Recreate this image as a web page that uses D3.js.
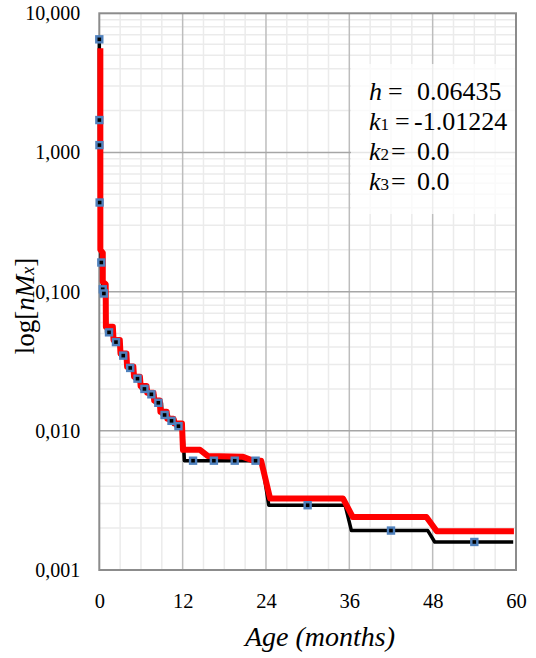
<!DOCTYPE html>
<html>
<head>
<meta charset="utf-8">
<script src="https://cdn.jsdelivr.net/npm/d3@7"></script>
<style>
  body { margin: 0; background: #fff; }
  svg { display: block; }
</style>
</head>
<body>
<div id="chart"></div>
<script>
// observed rates (markers) by age in months
var obsAge  = [0, 0.01, 0.02, 0.05, 0.29, 0.5, 0.66, 1.4, 2.4, 3.45, 4.45, 5.5, 6.5, 7.5, 8.5, 9.4, 10.4, 11.4, 13.5, 16.5, 19.5, 22.5, 30, 42, 54];
var obsRate = [6.5, 1.71, 1.13, 0.437, 0.162, 0.104, 0.097, 0.051, 0.0434, 0.0347, 0.0283, 0.0237, 0.0200, 0.0183, 0.0159, 0.0130, 0.0118, 0.0108, 0.0061, 0.0061, 0.0061, 0.0061, 0.00292, 0.00192, 0.00159];

// observed step line (black)
var blackAge  = [0, 0.01, 0.02, 0.05, 0.29, 0.5, 0.66, 0.95, 1.05, 1.95, 2.05, 2.95, 3.05, 3.95, 4.05, 4.95, 5.05, 5.95, 6.05, 6.95, 7.05, 7.95, 8.05, 8.95, 9.05, 9.95, 10.05, 10.95, 11.05, 12.0, 12.25, 23.4, 24.4, 35.4, 36.3, 47.3, 48.3, 59.6];
var blackRate = [6.5, 1.71, 1.13, 0.437, 0.162, 0.104, 0.097, 0.097, 0.051, 0.051, 0.0434, 0.0434, 0.0347, 0.0347, 0.0283, 0.0283, 0.0237, 0.0237, 0.0200, 0.0200, 0.0183, 0.0183, 0.0159, 0.0159, 0.0130, 0.0130, 0.0118, 0.0118, 0.0108, 0.0108, 0.0061, 0.0061, 0.00292, 0.00292, 0.00192, 0.00192, 0.00159, 0.00159];

// fitted line (red)
var redAge  = [0.15, 0.15, 0.5, 0.5, 0.92, 0.95, 1.95, 2.05, 2.95, 3.05, 3.9, 4.0, 4.9, 5.0, 5.85, 5.95, 6.8, 6.9, 7.8, 7.9, 8.7, 8.8, 9.7, 9.8, 10.7, 10.8, 11.9, 12.05, 14.5, 15.6, 20.7, 22.2, 23.3, 24.6, 35.1, 36.5, 47.1, 48.6, 59.7];
var redRate = [5.6, 0.2, 0.19, 0.118, 0.113, 0.056, 0.056, 0.045, 0.045, 0.036, 0.036, 0.029, 0.029, 0.0245, 0.0245, 0.021, 0.021, 0.0188, 0.0188, 0.0165, 0.0165, 0.0137, 0.0137, 0.0122, 0.0122, 0.0113, 0.0113, 0.0073, 0.0073, 0.0066, 0.0065, 0.0061, 0.0061, 0.00326, 0.00326, 0.0024, 0.0024, 0.0019, 0.0019];

var yTicks = [10, 1, 0.1, 0.01, 0.001];
var yTickLabels = ["10,000", "1,000", "0,100", "0,010", "0,001"];
var xTicks = [0, 12, 24, 36, 48, 60];

var paramNames  = ["h", "k", "k", "k"];
var paramSubs   = ["", "1", "2", "3"];
var paramValues = ["0.06435", "-1.01224", "0.0", "0.0"];

var width = 536, height = 658;
var m = {left: 99.3, right: 516, top: 13.3, bottom: 570};
var serif = "Liberation Serif";

var svg = d3.select("#chart").append("svg")
  .attr("width", width)
  .attr("height", height)
  .attr("font-family", serif);

var x = d3.scaleLinear().domain([0, 60]).range([m.left, m.right]);
var y = d3.scaleLog().domain([0.001, 10]).range([m.bottom, m.top]);

// minor grid
var minorX = d3.range(0, 61, 3).filter(function(d) { return d % 12 != 0; });
var minorY = [];
yTicks.slice(1).forEach(function(t) {
  for (var i = 2; i <= 9; i++) minorY.push(t * i);
});

var grid = svg.append("g");
grid.selectAll(".mx").data(minorX).enter().append("line")
  .attr("x1", x).attr("x2", x).attr("y1", m.top).attr("y2", m.bottom)
  .attr("stroke", "#ebebeb").attr("stroke-width", 1.5);
grid.selectAll(".my").data(minorY).enter().append("line")
  .attr("x1", m.left).attr("x2", m.right).attr("y1", y).attr("y2", y)
  .attr("stroke", "#ebebeb").attr("stroke-width", 1.5);

// major grid
grid.selectAll(".Mx").data(xTicks.slice(1, -1)).enter().append("line")
  .attr("x1", x).attr("x2", x).attr("y1", m.top).attr("y2", m.bottom)
  .attr("stroke", "#bdbdbd").attr("stroke-width", 1.5);
grid.selectAll(".My").data(yTicks.slice(1, -1)).enter().append("line")
  .attr("x1", m.left).attr("x2", m.right).attr("y1", y).attr("y2", y)
  .attr("stroke", "#a6a6a6").attr("stroke-width", 1.5);

// plot border
svg.append("rect")
  .attr("x", m.left).attr("y", m.top)
  .attr("width", m.right - m.left).attr("height", m.bottom - m.top)
  .attr("fill", "none").attr("stroke", "#8c8c8c").attr("stroke-width", 2);

// lines
var line = d3.line()
  .x(function(d) { return x(d[0]); })
  .y(function(d) { return y(d[1]); });

svg.append("path")
  .datum(d3.zip(blackAge, blackRate))
  .attr("d", line)
  .attr("fill", "none").attr("stroke", "#000").attr("stroke-width", 3.5)
  .attr("stroke-linejoin", "round");

svg.append("path")
  .datum(d3.zip(redAge, redRate))
  .attr("d", line)
  .attr("fill", "none").attr("stroke", "#ff0000").attr("stroke-width", 6)
  .attr("stroke-linejoin", "round");

// markers
svg.selectAll(".pt").data(d3.zip(obsAge, obsRate)).enter().append("rect")
  .attr("x", function(d) { return x(d[0]) - 3; })
  .attr("y", function(d) { return y(d[1]) - 3; })
  .attr("width", 6).attr("height", 6)
  .attr("fill", "#000")
  .attr("stroke", "#4f81bd").attr("stroke-width", 2.4);

// legend box with parameters
svg.append("rect")
  .attr("x", 351).attr("y", 64).attr("width", m.right - 352).attr("height", 150)
  .attr("fill", "#fff").attr("opacity", 0.72);

var eqX  = [388, 395, 391, 391];
var valX = [417, 414, 417, 417];
paramNames.forEach(function(n, i) {
  var t = svg.append("text")
    .attr("x", 369).attr("y", 100 + i * 30)
    .style("font-family", serif).style("font-size", "26px")
    .attr("fill", "#000");
  t.append("tspan").style("font-style", "italic").text(n);
  if (paramSubs[i]) t.append("tspan").style("font-size", "17px").text(paramSubs[i]);
  t.append("tspan").attr("x", eqX[i]).text("=");
  t.append("tspan").attr("x", valX[i]).text(paramValues[i]);
});

// axes
var yAxis = svg.append("g")
  .attr("transform", "translate(" + m.left + ",0)")
  .call(d3.axisLeft(y).tickValues(yTicks).tickSize(0).tickPadding(19)
    .tickFormat(function(d, i) { return yTickLabels[i]; }));
yAxis.select(".domain").remove();
yAxis.attr("font-family", serif).attr("font-size", 20);
yAxis.selectAll("text").attr("fill", "#000");

var xAxis = svg.append("g")
  .attr("transform", "translate(0," + m.bottom + ")")
  .call(d3.axisBottom(x).tickValues(xTicks).tickSize(0).tickPadding(23));
xAxis.select(".domain").remove();
xAxis.attr("font-family", serif).attr("font-size", 20.5);
xAxis.selectAll("text").attr("fill", "#000");

// titles
svg.append("text")
  .attr("x", 320).attr("y", 646)
  .attr("text-anchor", "middle")
  .style("font-family", serif).style("font-size", "28px").style("font-style", "italic")
  .text("Age (months)");

var yt = svg.append("text")
  .attr("transform", "translate(34,306) rotate(-90)")
  .attr("text-anchor", "middle")
  .style("font-family", serif).style("font-size", "27px");
yt.append("tspan").text("log[");
yt.append("tspan").style("font-style", "italic").text("nM");
yt.append("tspan").style("font-style", "italic").style("font-size", "18px").text("x");
yt.append("tspan").text("]");
</script>
</body>
</html>
